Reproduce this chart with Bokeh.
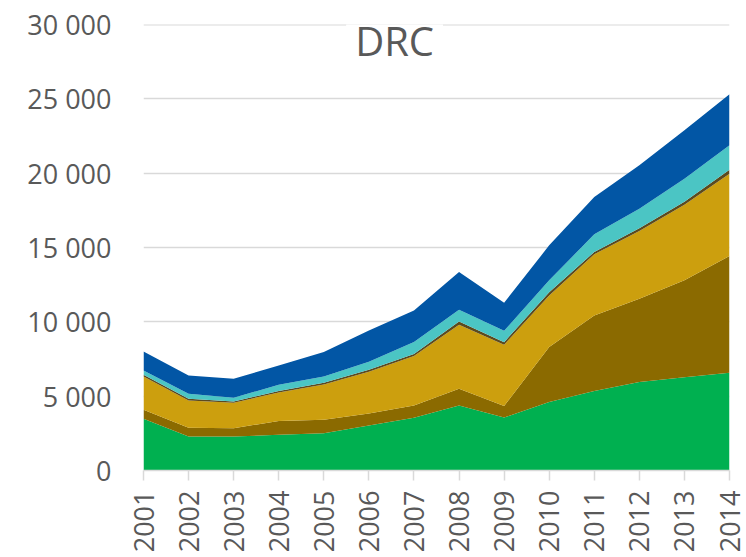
import math
from bokeh.plotting import figure
from bokeh.models import Range1d, FixedTicker, Label, ColumnDataSource, Span
from bokeh.embed import file_html
from bokeh.resources import INLINE

# ---------------- data ----------------
years = [2001, 2002, 2003, 2004, 2005, 2006, 2007, 2008, 2009, 2010, 2011, 2012, 2013, 2014]
series_green = [3480, 2290, 2290, 2400, 2510, 3030, 3540, 4380, 3560, 4600, 5340, 5950, 6280, 6580]
series_brown = [605, 580, 560, 930, 900, 810, 840, 1120, 780, 3700, 5090, 5600, 6510, 7840]
series_gold = [2245, 1840, 1705, 1920, 2378, 2800, 3320, 4310, 4114, 3478, 4110, 4560, 5090, 5545]
series_dark = [110, 110, 90, 100, 110, 130, 130, 220, 180, 220, 160, 180, 200, 270]
series_teal = [290, 340, 246, 415, 428, 550, 807, 790, 766, 792, 1190, 1320, 1550, 1635]
series_blue = [1279, 1234, 1279, 1302, 1637, 2102, 2131, 2527, 1884, 2353, 2510, 2920, 3250, 3430]

y_ticks = [0, 5000, 10000, 15000, 20000, 25000, 30000]
y_tick_labels = ["0", "5 000", "10 000", "15 000", "20 000", "25 000", "30 000"]
title_text = "DRC"

series_keys = ["green", "brown", "gold", "dark", "teal", "blue"]
series_colors = ["#00B050", "#8B6A00", "#CC9F0E", "#5C4A1E", "#4BC5C4", "#0256A5"]

source = ColumnDataSource(dict(
    year=years,
    green=series_green,
    brown=series_brown,
    gold=series_gold,
    dark=series_dark,
    teal=series_teal,
    blue=series_blue,
))

text_color = "#595959"
grid_color = "#D9D9D9"

p = figure(
    width=746, height=557,
    output_backend="svg", toolbar_location=None,
    x_range=Range1d(years[0], years[-1]),
    y_range=Range1d(y_ticks[0], y_ticks[-1]),
    min_border_left=143, min_border_right=17,
    min_border_top=24, min_border_bottom=87,
)
p.background_fill_color = "white"
p.border_fill_color = "white"
p.outline_line_color = None

# grid
p.xgrid.grid_line_color = None
p.ygrid.grid_line_color = grid_color
p.ygrid.grid_line_width = 1.5
top_grid = Span(location=y_ticks[-1], dimension="width", line_color=grid_color,
                line_width=2, level="underlay")
p.add_layout(top_grid)

p.varea_stack(stackers=series_keys, x="year", color=series_colors, source=source)

# y axis
p.yaxis.ticker = FixedTicker(ticks=y_ticks)
p.yaxis.major_label_overrides = {t: l for t, l in zip(y_ticks, y_tick_labels)}
p.yaxis.axis_line_color = None
p.yaxis.major_tick_line_color = None
p.yaxis.minor_tick_line_color = None
p.yaxis.major_tick_out = 0
p.yaxis.major_tick_in = 0
p.yaxis.major_label_standoff = 32
p.yaxis.major_label_text_font = "Open Sans"
p.yaxis.major_label_text_font_size = "27px"
p.yaxis.major_label_text_color = text_color

# x axis
p.xaxis.ticker = FixedTicker(ticks=years)
p.xaxis.axis_line_color = grid_color
p.xaxis.axis_line_width = 1.5
p.xaxis.major_tick_line_color = grid_color
p.xaxis.major_tick_line_width = 1.5
p.xaxis.major_tick_out = 10
p.xaxis.major_tick_in = 0
p.xaxis.minor_tick_line_color = None
p.xaxis.major_label_orientation = math.pi / 2
p.xaxis.major_label_standoff = 10
p.xaxis.major_label_text_font = "Open Sans"
p.xaxis.major_label_text_font_size = "27px"
p.xaxis.major_label_text_color = text_color

# title inside plot
title = Label(
    x=2006.57, y=28900, text=title_text,
    text_font="Open Sans", text_font_size="40px", text_color=text_color,
    text_align="center", text_baseline="middle",
    background_fill_color="white", padding=9,
)
p.add_layout(title)

open("out.html", "w").write(file_html(p, INLINE))
